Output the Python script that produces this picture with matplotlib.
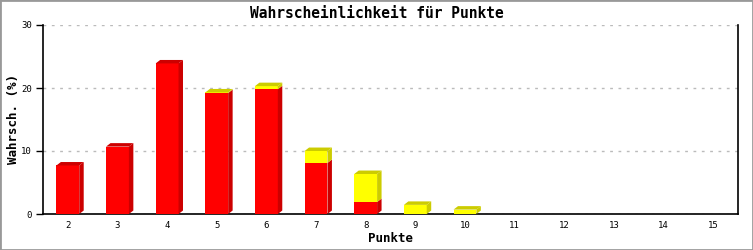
import matplotlib.pyplot as plt
from matplotlib.patches import Polygon, Rectangle

# Wahrscheinlichkeit je Punktzahl (%)
PUNKTE = [2, 3, 4, 5, 6, 7, 8, 9, 10, 11, 12, 13, 14, 15]
ROT = [7.7, 10.7, 23.9, 19.2, 19.8, 8.1, 1.9, 0, 0, 0, 0, 0, 0, 0]
GELB = [0, 0, 0, 0.1, 0.5, 1.9, 4.45, 1.45, 0.7, 0, 0, 0, 0, 0]

FONT = "DejaVu Sans Mono"
W = 0.46   # Balkenbreite
DX = 0.09  # 3D-Versatz x (Daten)
DY = 0.55  # 3D-Versatz y (Daten)

fig = plt.figure(figsize=(7.53, 2.5), dpi=100)
ax = fig.add_axes([43 / 753, 36 / 250, 695 / 753, 189 / 250])


def block(x, unten, hoehe, front, dunkel, deckel):
    ax.bar(x, hoehe, W, bottom=unten, color=front, linewidth=0, zorder=3)
    r = x + W / 2
    ax.add_patch(Polygon([(r, unten), (r + DX, unten + DY), (r + DX, unten + hoehe + DY), (r, unten + hoehe)],
                         closed=True, facecolor=dunkel, edgecolor="none", zorder=3))
    if deckel:
        l = x - W / 2
        t = unten + hoehe
        ax.add_patch(Polygon([(l, t), (l + DX, t + DY), (r + DX, t + DY), (r, t)],
                             closed=True, facecolor=dunkel, edgecolor="none", zorder=3))


for p, r, g in zip(PUNKTE, ROT, GELB):
    if r > 0:
        block(p, 0, r, "#ff0000", "#cc0000", g == 0)
    if g > 0:
        block(p, r, g, "#ffff00", "#cccc00", True)

ax.set_xlim(1.5, 15.5)
ax.set_ylim(0, 30)
ax.set_yticks([0, 10, 20, 30])
ax.set_xticks(PUNKTE)
ax.grid(axis="y", linestyle=(0, (2, 4)), color="#bbbbbb", linewidth=1, zorder=0)
ax.spines["top"].set_visible(False)
for s in ["left", "bottom", "right"]:
    ax.spines[s].set_linewidth(1.2)
ax.tick_params(axis="y", length=5, width=1, labelsize=6.5, pad=3)
ax.tick_params(axis="x", length=0, labelsize=6.5, pad=5)
for lab in ax.get_xticklabels() + ax.get_yticklabels():
    lab.set_fontfamily(FONT)

fig.suptitle("Wahrscheinlichkeit für Punkte", fontfamily=FONT, fontweight="bold", fontsize=10.5,
             x=0.5, y=1 - 13 / 250, va="center")
ax.set_xlabel("Punkte", fontfamily=FONT, fontweight="bold", fontsize=9)
ax.set_ylabel("Wahrsch. (%)", fontfamily=FONT, fontweight="bold", fontsize=9)
ax.xaxis.set_label_coords(0.5, -25 / 189)
ax.xaxis.label.set_va("center")
ax.yaxis.set_label_coords(-30 / 695, 0.5)
ax.yaxis.label.set_va("center")

fig.patches.append(Rectangle((0, 0), 1, 1, transform=fig.transFigure, fill=False,
                             edgecolor="#999999", linewidth=2))

fig.savefig("out.png", dpi=100)
